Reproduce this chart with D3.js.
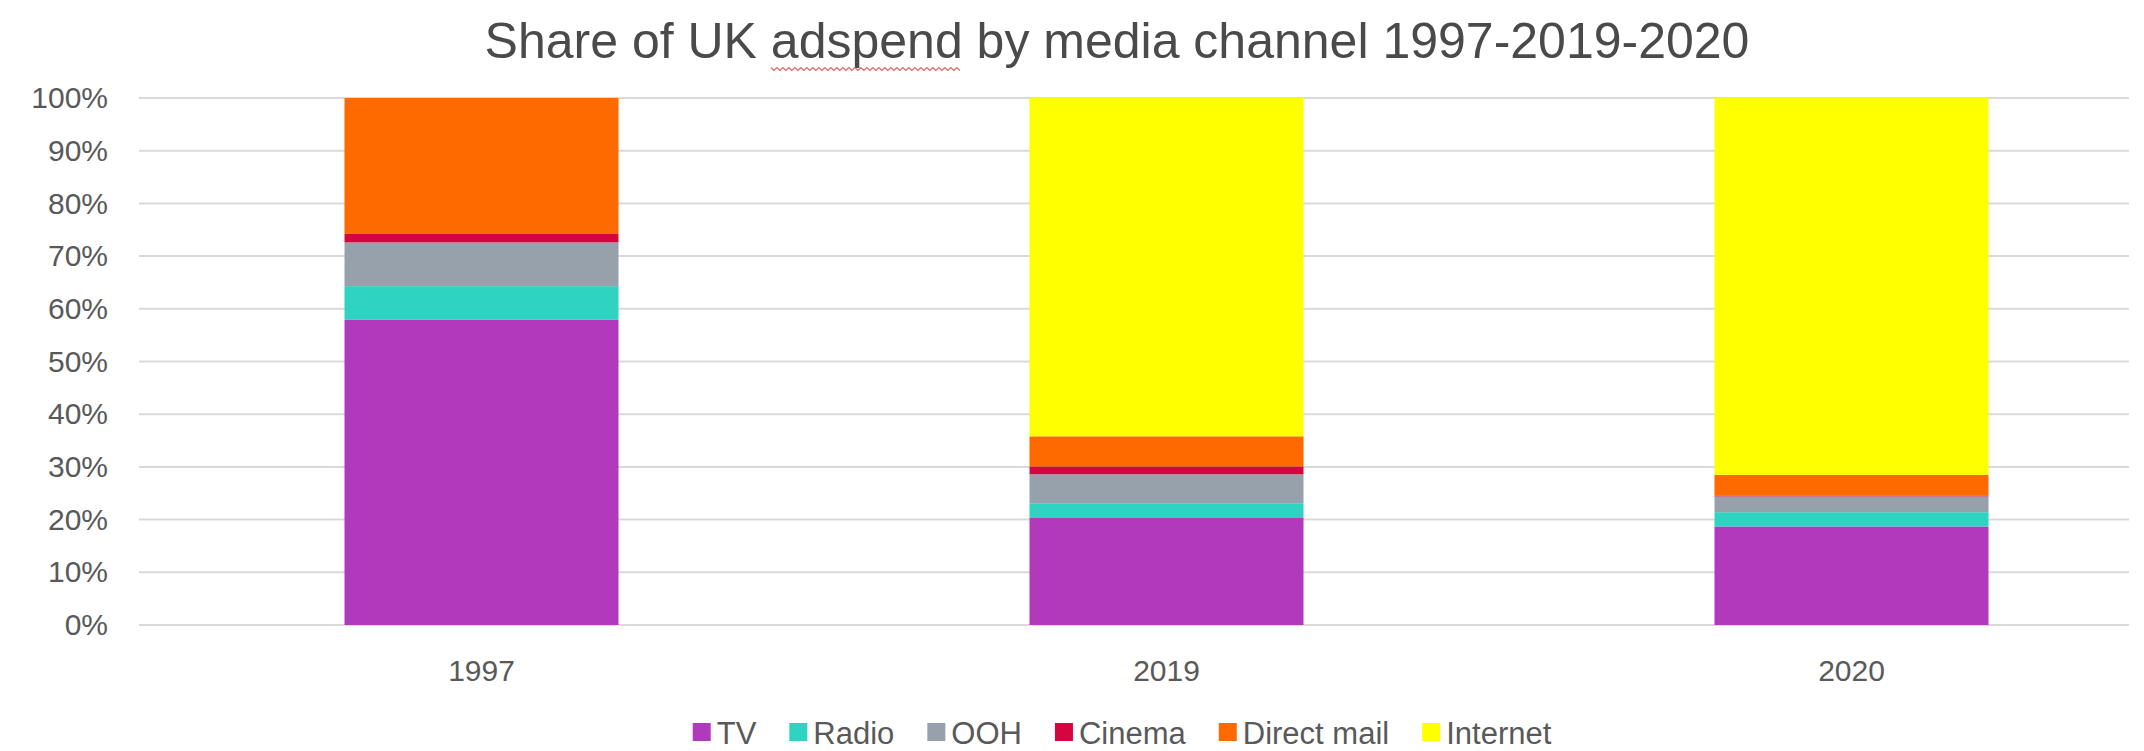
<!DOCTYPE html>
<html>
<head>
<meta charset="utf-8">
<script src="https://cdn.jsdelivr.net/npm/d3@7"></script>
<style>
  html, body { margin: 0; padding: 0; background: #fff; }
  svg { display: block; font-family: "Liberation Sans", Arial, sans-serif; }
</style>
</head>
<body>
<div id="chart"></div>
<script>
// data (share in %)
const years = ['1997', '2019', '2020'];
const channels = ['TV', 'Radio', 'OOH', 'Cinema', 'Direct mail', 'Internet'];
const tv         = [57.9, 20.3, 18.7];
const radio      = [6.4, 2.8, 2.7];
const ooh        = [8.3, 5.5, 3.0];
const cinema     = [1.6, 1.5, 0.1];
const directMail = [25.8, 5.7, 4.0];
const internet   = [0, 64.2, 71.5];
const yTicks = [0, 10, 20, 30, 40, 50, 60, 70, 80, 90, 100];
const colors = ['#b039bc', '#2ed4c1', '#97a1ab', '#d5063f', '#ff6a00', '#ffff00'];
const title = 'Share of UK adspend by media channel 1997-2019-2020';

const W = 2144, H = 751;
const margin = {top: 98, left: 139, bottom: 124};
const plotRight = 2129;   // gridlines stop here

const seriesValues = [tv, radio, ooh, cinema, directMail, internet];
const rows = years.map((y, i) => {
    const r = {year: y};
    channels.forEach((c, k) => { r[c] = seriesValues[k][i]; });
    return r;
});
const stacked = d3.stack().keys(channels)(rows);

const svg = d3.select('#chart').append('svg')
    .attr('width', W).attr('height', H);

// scales
const x = d3.scaleBand()
    .domain(years)
    .range([margin.left, margin.left + 3 * 685])
    .paddingInner(0.6)
    .paddingOuter(0.3);

const y = d3.scaleLinear()
    .domain([0, 100])
    .range([H - margin.bottom - 2, margin.top]);

// gridlines
svg.append('g')
    .selectAll('line')
    .data(yTicks)
    .join('line')
    .attr('x1', margin.left)
    .attr('x2', plotRight)
    .attr('y1', d => y(d))
    .attr('y2', d => y(d))
    .attr('stroke', '#d9d9d9')
    .attr('stroke-width', 2);

// y axis labels
const axisY = svg.append('g')
    .attr('transform', 'translate(' + (margin.left - 8) + ',0)')
    .call(d3.axisLeft(y).tickValues(yTicks).tickSize(0).tickPadding(23).tickFormat(d => d + '%'));
axisY.select('.domain').remove();
axisY.selectAll('text')
    .attr('fill', '#595959')
    .attr('font-size', 30)
    .attr('font-family', '"Liberation Sans", Arial, sans-serif');

// stacked bars
svg.append('g')
    .selectAll('g')
    .data(stacked)
    .join('g')
    .attr('fill', (d, i) => colors[i])
    .selectAll('rect')
    .data(d => d)
    .join('rect')
    .attr('x', d => x(d.data.year))
    .attr('width', x.bandwidth())
    .attr('y', d => y(d[1]))
    .attr('height', d => y(d[0]) - y(d[1]));

// x axis labels
const axisX = svg.append('g')
    .attr('transform', 'translate(0,' + (H - margin.bottom) + ')')
    .call(d3.axisBottom(x).tickSize(0).tickPadding(33));
axisX.select('.domain').remove();
axisX.selectAll('text')
    .attr('fill', '#595959')
    .attr('font-size', 30)
    .attr('font-family', '"Liberation Sans", Arial, sans-serif');

// title
const titleText = svg.append('text')
    .attr('x', 1117)
    .attr('y', 58)
    .attr('text-anchor', 'middle')
    .attr('fill', '#4a4a4a')
    .attr('font-size', 50)
    .text(title);

// red squiggle under "adspend" like in the screenshot
const start = title.indexOf('adspend');
const sx = titleText.node().getStartPositionOfChar(start).x;
const ex = titleText.node().getEndPositionOfChar(start + 6).x;
const squiggle = [];
for (let px = sx; px <= ex; px += 3) {
    squiggle.push([px, 69 + ((Math.round((px - sx) / 3) % 2) ? 1.5 : -1.5)]);
}
svg.append('path')
    .attr('d', d3.line()(squiggle))
    .attr('fill', 'none')
    .attr('stroke', '#e06666')
    .attr('stroke-width', 1.2);

// legend
const legend = svg.append('g');
const sq = 18, gapText = 6, gapItem = 33;
let lx = 0;
channels.forEach((c, i) => {
    const item = legend.append('g').attr('transform', 'translate(' + lx + ',0)');
    item.append('rect')
        .attr('x', 0).attr('y', -sq / 2 - 1)
        .attr('width', sq).attr('height', sq)
        .attr('fill', colors[i]);
    const t = item.append('text')
        .attr('x', sq + gapText)
        .attr('dy', '0.35em')
        .attr('fill', '#595959')
        .attr('font-size', 31)
        .text(c);
    lx += sq + gapText + t.node().getComputedTextLength() + gapItem;
});
lx -= gapItem;
legend.attr('transform', 'translate(' + (1122 - lx / 2) + ',733)');
</script>
</body>
</html>
